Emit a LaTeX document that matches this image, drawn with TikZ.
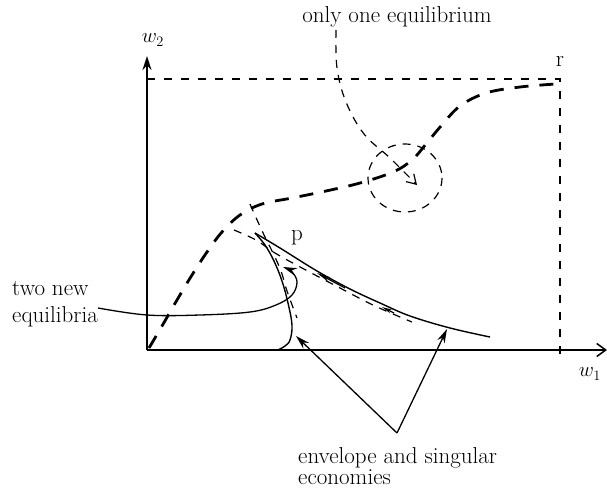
\documentclass[tikz,border=0pt]{standalone}
\usetikzlibrary{arrows.meta}
\begin{document}
\begin{tikzpicture}[x=1pt,y=-1pt,
  lbl/.style={inner sep=0pt,font=\fontsize{23}{27}\selectfont},
  axisline/.style={line width=1.5pt},
  frame/.style={line width=1.2pt,dash pattern=on 8pt off 9pt},
  thickdash/.style={line width=2.8pt,dash pattern=on 14pt off 11pt},
  thindash/.style={line width=1.2pt,dash pattern=on 8pt off 7pt},
  solidcurve/.style={line width=1.4pt},
  pointer/.style={line width=1.3pt,-{Stealth[length=14pt,width=8pt]}}]
\useasboundingbox (0,0) rectangle (607,490);
% axes
\coordinate (O) at (147,350);
\coordinate (xend) at (607,350);
\coordinate (yend) at (147,56);
\draw[axisline,-{Straight Barb[length=9pt,width=13pt,line width=1.5pt]}] (O) -- (xend);
\draw[axisline,-{Stealth[length=14pt,width=9pt]}] (O) -- (yend);
\node[lbl,font=\fontsize{22}{24}\selectfont] (w2) at (153,40) {$w_2$};
\node[lbl,font=\fontsize{22}{24}\selectfont] (w1) at (590,374) {$w_1$};
% frame
\coordinate (tl) at (147,79);
\coordinate (tr) at (560,79);
\coordinate (br) at (560,362);
\draw[frame] (tl) -- (tr) -- (br);
\node[lbl,anchor=base] (r) at (560,66) {r};
% thick dashed equilibrium curve
\draw[thickdash] plot[smooth,tension=0.6] coordinates {(149,348) (162,326) (177,300) (192,275) (207,252) (222,232) (240,215) (262,204) (292,198) (326,191) (360,183) (393,172) (412,160) (426,144) (441,126) (460,106) (486,93) (520,87) (556,84)};
% loop
\draw[thindash] (405,178) ellipse[x radius=37, y radius=34];
% dashed arrow from label
\node[lbl,anchor=base] (one) at (397,22) {only one equilibrium};
\draw[thindash,-{Straight Barb[length=9pt,width=11pt,line width=1.2pt]}] plot[smooth,tension=0.6] coordinates {(336,30) (337,68) (346,102) (364,134) (390,158) (417,185)};
% cusp
\coordinate (cusp) at (255,233);
\draw[solidcurve] plot[smooth,tension=0.6] coordinates {(255,233) (280,248) (317,271) (350,289) (380,303) (410,316) (450,328) (490,337)};
\draw[solidcurve] plot[smooth,tension=0.6] coordinates {(255,233) (265,245) (274,261) (282,281) (288,303) (292,325) (290,340) (285,346) (278,350)};
\node[lbl,anchor=base] (p) at (297,240) {p};
% thin dashed paths near cusp
\draw[thindash] plot[smooth,tension=0.6] coordinates {(234,230) (256,240) (275,253) (302,268) (340,288) (375,306) (412,322)};
\draw[thindash] plot[smooth,tension=0.6] coordinates {(250,204) (258,222) (265,237) (273,253) (281,271) (287,291) (297,318)};
\draw[line width=1.2pt,-{Stealth[length=14pt,width=5pt]}] (345,288) -- (317,273);
\draw[line width=1.2pt,-{Stealth[length=10pt,width=4pt]}] (394,313) -- (382,307);
% two new equilibria
\node[lbl,anchor=base west,align=left] (two) at (12,322) {two new\\equilibria};
\coordinate (twoend) at (98,308);
\draw[pointer] plot[smooth,tension=0.6] coordinates {(twoend) (147,315) (200,315) (250,312) (276,305) (292,295) (297,282) (292,272) (283,267)};
% envelope
\node[lbl,font=\fontsize{23}{21}\selectfont,anchor=base west,align=left] (env) at (298,484) {envelope and singular\\economies};
\coordinate (apex) at (397,433);
\coordinate (tipL) at (296,336);
\coordinate (tipR) at (447,329);
\draw[pointer] (apex) -- (tipL);
\draw[pointer] (apex) -- (tipR);
\end{tikzpicture}
\end{document}
